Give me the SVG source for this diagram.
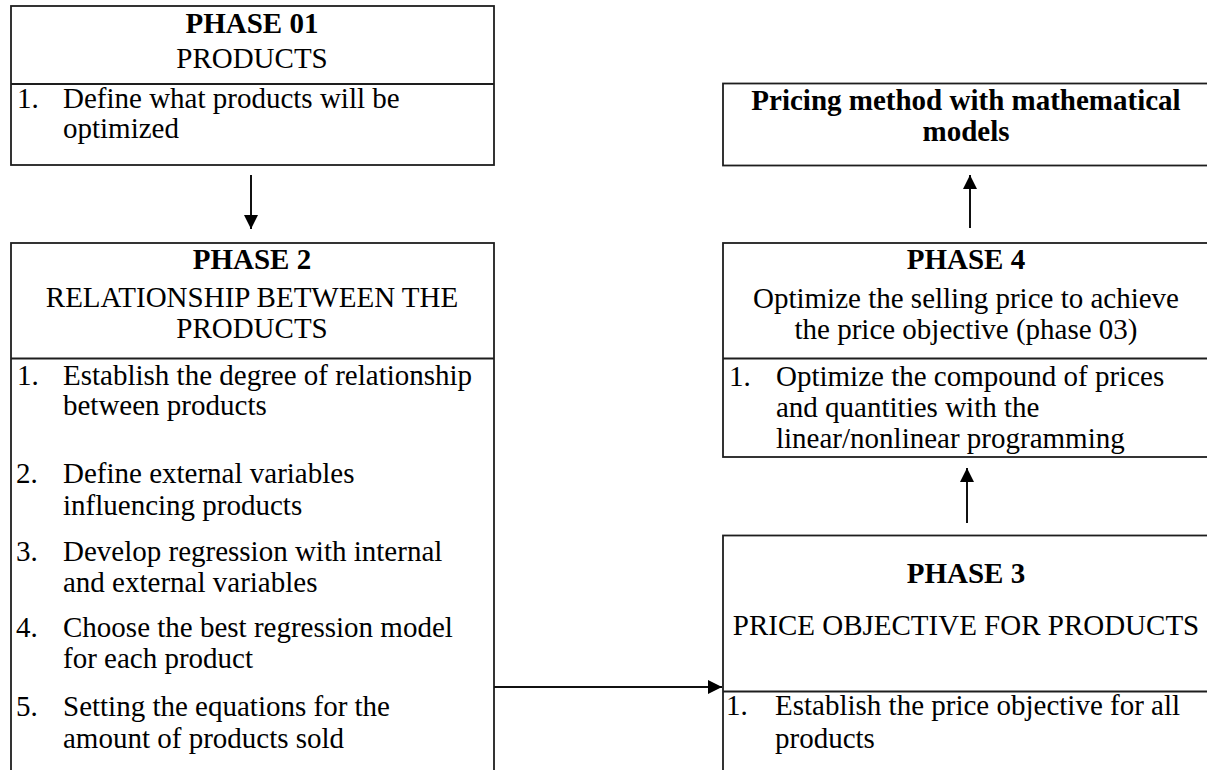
<svg xmlns="http://www.w3.org/2000/svg" width="1207" height="770" viewBox="0 0 1207 770">
  <style>
    .box { fill: #ffffff; stroke: #1e1e1e; stroke-width: 1.8; }
    .div { stroke: #1e1e1e; stroke-width: 1.8; }
    .t { font-family: "Liberation Serif", "Times New Roman", serif; font-size: 29px; fill: #000; }
    .b { font-weight: bold; }
    .c { text-anchor: middle; }
    .conn { stroke: #111; stroke-width: 2; fill: none; marker-end: url(#arrow); }
  </style>
  <defs>
    <marker id="arrow" viewBox="0 0 10 10" refX="10" refY="5" markerUnits="userSpaceOnUse" markerWidth="15" markerHeight="14" orient="auto">
      <path d="M0,0 L10,5 L0,10 z" fill="#000"/>
    </marker>
  </defs>

  <rect x="0" y="0" width="1207" height="770" fill="#ffffff"/>

  <!-- Phase 01: products -->
  <g id="phase1">
    <rect class="box" x="11" y="6" width="483" height="159"/>
    <line class="div" x1="11" y1="84" x2="494" y2="84"/>
    <text class="t b c" x="252" y="33">PHASE 01</text>
    <text class="t c" x="252" y="68">PRODUCTS</text>
    <text class="t" x="17" y="108">1.</text>
    <text class="t" x="63" y="108">Define what products will be</text>
    <text class="t" x="63" y="138">optimized</text>
  </g>

  <!-- Phase 2: relationship between the products -->
  <g id="phase2">
    <rect class="box" x="11" y="243" width="483" height="540"/>
    <line class="div" x1="11" y1="358.5" x2="494" y2="358.5"/>
    <text class="t b c" x="252" y="269">PHASE 2</text>
    <text class="t c" x="252" y="307">RELATIONSHIP BETWEEN THE</text>
    <text class="t c" x="252" y="338">PRODUCTS</text>
    <text class="t" x="17" y="385">1.</text>
    <text class="t" x="63" y="385">Establish the degree of relationship</text>
    <text class="t" x="63" y="415">between products</text>
    <text class="t" x="16" y="483">2.</text>
    <text class="t" x="63" y="483">Define external variables</text>
    <text class="t" x="63" y="515">influencing products</text>
    <text class="t" x="16" y="561">3.</text>
    <text class="t" x="63" y="561">Develop regression with internal</text>
    <text class="t" x="63" y="592">and external variables</text>
    <text class="t" x="16" y="637">4.</text>
    <text class="t" x="63" y="637">Choose the best regression model</text>
    <text class="t" x="63" y="668">for each product</text>
    <text class="t" x="16" y="716">5.</text>
    <text class="t" x="63" y="716">Setting the equations for the</text>
    <text class="t" x="63" y="748">amount of products sold</text>
  </g>

  <!-- Phase 3: price objective -->
  <g id="phase3">
    <rect class="box" x="723" y="535.5" width="490" height="250"/>
    <line class="div" x1="723" y1="691.5" x2="1213" y2="691.5"/>
    <text class="t b c" x="966" y="583">PHASE 3</text>
    <text class="t c" x="966" y="635">PRICE OBJECTIVE FOR PRODUCTS</text>
    <text class="t" x="726" y="715">1.</text>
    <text class="t" x="775" y="715">Establish the price objective for all</text>
    <text class="t" x="775" y="748">products</text>
  </g>

  <!-- Phase 4: optimize the selling price -->
  <g id="phase4">
    <rect class="box" x="723" y="243" width="490" height="214"/>
    <line class="div" x1="723" y1="358.5" x2="1213" y2="358.5"/>
    <text class="t b c" x="966" y="269">PHASE 4</text>
    <text class="t c" x="966" y="308">Optimize the selling price to achieve</text>
    <text class="t c" x="966" y="339">the price objective (phase 03)</text>
    <text class="t" x="729" y="386">1.</text>
    <text class="t" x="776" y="386">Optimize the compound of prices</text>
    <text class="t" x="776" y="417">and quantities with the</text>
    <text class="t" x="776" y="448">linear/nonlinear programming</text>
  </g>

  <!-- Result: pricing method -->
  <g id="result">
    <rect class="box" x="723" y="83.5" width="490" height="82"/>
    <text class="t b c" x="966" y="110">Pricing method with mathematical</text>
    <text class="t b c" x="966" y="141">models</text>
  </g>

  <!-- Connectors -->
  <g id="connectors">
    <line class="conn" x1="251" y1="175" x2="251" y2="229"/>
    <line class="conn" x1="494" y1="687" x2="722" y2="687"/>
    <line class="conn" x1="967" y1="523" x2="967" y2="468"/>
    <line class="conn" x1="970" y1="228" x2="970" y2="175"/>
  </g>
</svg>
